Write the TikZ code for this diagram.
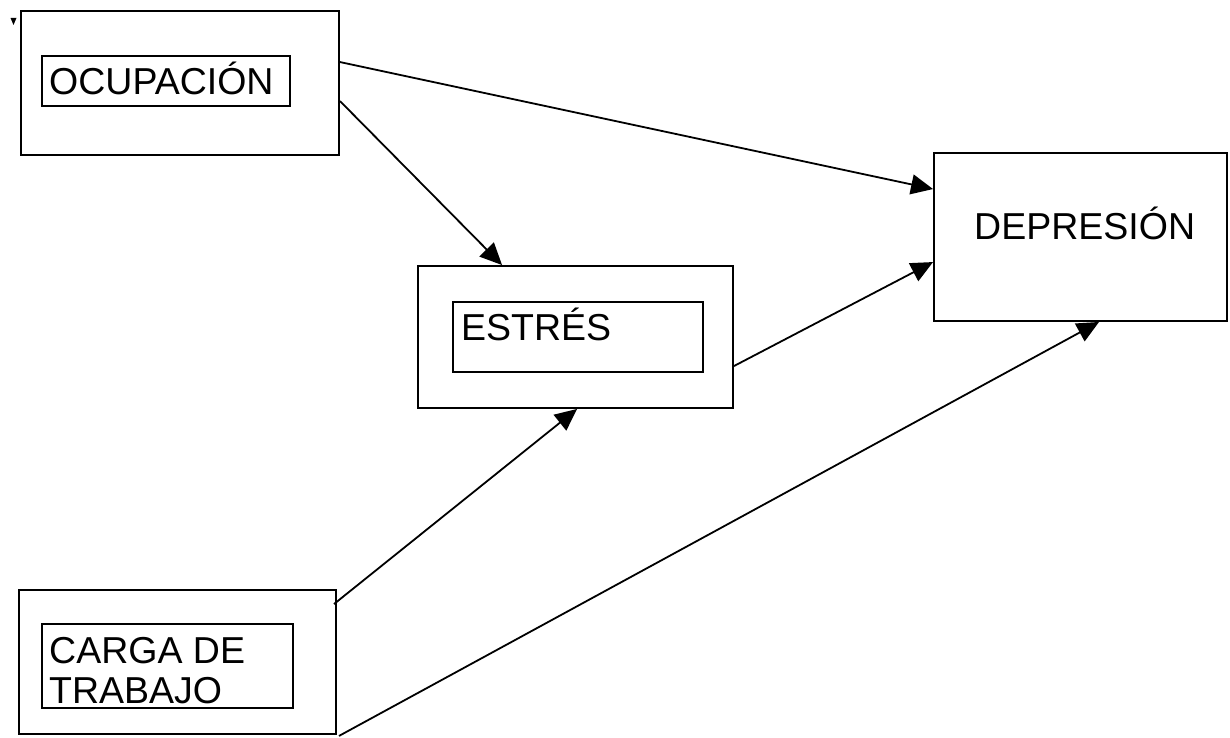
\documentclass[tikz,border=0pt]{standalone}
\usepackage{fontspec}
\setmainfont{Liberation Sans}
\usetikzlibrary{arrows.meta,calc}
\begin{document}
\begin{tikzpicture}[x=1pt,y=-1pt,
  box/.style={draw=black,line width=1.9pt,rectangle,inner sep=0pt,fill=white},
  lbl/.style={inner sep=0pt,font=\fontsize{37.5}{40}\selectfont},
  arr/.style={line width=1.8pt,-{Triangle[length=22pt,width=20pt]}}]
\useasboundingbox[fill=white] (0,0) rectangle (1230,738);
% outer boxes
\node[box,minimum width=318,minimum height=144] (oc) at (180,83) {};
\node[box,minimum width=315,minimum height=142] (es) at (575.5,337) {};
\node[box,minimum width=293,minimum height=168] (dep) at (1080.5,237) {};
\node[box,minimum width=317,minimum height=144] (ca) at (177.5,662) {};
% inner boxes
\node[box,minimum width=248,minimum height=50] (ocin) at (166,81) {};
\node[box,minimum width=250,minimum height=70] (esin) at (578,337) {};
\node[box,minimum width=251,minimum height=84] (cain) at (167.5,666) {};
% texts
\node[lbl,anchor=base west] (t1) at (49,94.5) {OCUPACIÓN};
\node[lbl,anchor=base west] (t2) at (461,340.5) {ESTRÉS};
\node[lbl,anchor=base west] (t3) at (974,239) {DEPRESIÓN};
\node[lbl,anchor=base west] (t4) at (49,663) {CARGA DE};
\node[lbl,anchor=base west] (t5) at (49,703) {TRABAJO};
% small marker
\fill (10.5,18) -- (16.5,18) -- (13.5,25) -- cycle;
% connectors
\draw[arr] ($(oc.north east)+(0,52)$) -- ($(dep.north west)+(0,37)$);
\draw[arr] ($(oc.north east)+(0,91)$) -- ($(es.north west)+(85,0)$);
\draw[arr] ($(es.north east)+(0,101)$) -- ($(dep.north west)+(0,110)$);
\draw[arr] ($(ca.north east)+(-3,15)$) -- ($(es.south west)+(160,0)$);
\draw[arr] ($(ca.south east)+(2,1)$) -- ($(dep.south west)+(166,0)$);
\end{tikzpicture}
\end{document}
